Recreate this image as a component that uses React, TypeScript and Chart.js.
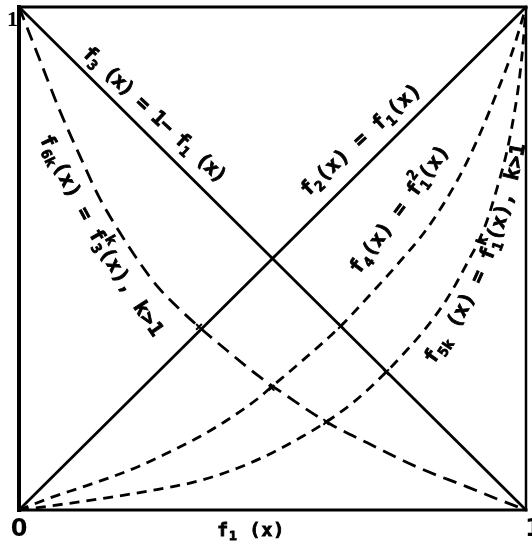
import React, { useEffect, useRef } from "react";
import { Chart, registerables } from "chart.js";

Chart.register(...registerables);

// ---- data ----
const diagX = [0, 1];
const f2Values = [0, 1];
const f3Values = [1, 0];

const f4X = [0, 0.061, 0.12, 0.178, 0.237, 0.296, 0.355, 0.414, 0.473, 0.496, 0.551, 0.635, 0.688, 0.747, 0.806, 0.865, 0.904, 0.943, 0.973, 1];
const f4Y = [0, 0.024, 0.044, 0.064, 0.087, 0.115, 0.145, 0.181, 0.223, 0.243, 0.29, 0.366, 0.423, 0.489, 0.561, 0.656, 0.736, 0.831, 0.911, 1];

const f5X = [0, 0.061, 0.159, 0.257, 0.355, 0.433, 0.498, 0.557, 0.606, 0.663, 0.724, 0.767, 0.806, 0.845, 0.884, 0.918, 0.943, 0.963, 0.978, 0.986, 0.994, 1];
const f5Y = [0, 0.008, 0.022, 0.038, 0.058, 0.084, 0.113, 0.145, 0.175, 0.217, 0.274, 0.32, 0.366, 0.421, 0.491, 0.561, 0.64, 0.716, 0.795, 0.849, 0.924, 1];

const f6X = [0, 0.041, 0.08, 0.12, 0.159, 0.198, 0.237, 0.276, 0.316, 0.355, 0.414, 0.473, 0.531, 0.61, 0.688, 0.786, 0.884, 0.943, 1];
const f6Y = [1, 0.895, 0.795, 0.704, 0.62, 0.553, 0.493, 0.441, 0.4, 0.364, 0.314, 0.266, 0.225, 0.173, 0.133, 0.085, 0.046, 0.022, 0];

const crossX = [0.5, 0.355, 0.498, 0.606, 0.635, 0.724];
const crossY = [0.5, 0.364, 0.243, 0.175, 0.366, 0.274];

const axisTicks = ["0", "1"];
const axisTitle = "f";
const axisTitleSub = "1";

type Seg = { t: string; sub?: string; sup?: string };
type Label = { segs: Seg[]; p0: [number, number]; mid: [number, number]; p2: [number, number] };

// label paths (start glyph centre, middle, end glyph centre) in data units
const curveLabels: Label[] = [
  { segs: [{ t: "f", sub: "3" }, { t: " (x) = 1\u2212 f", sub: "1" }, { t: " (x)" }], p0: [0.139, 0.905], mid: [0.267, 0.784], p2: [0.394, 0.664] },
  { segs: [{ t: "f", sub: "2" }, { t: "(x) = f", sub: "1" }, { t: "(x)" }], p0: [0.571, 0.638], mid: [0.675, 0.735], p2: [0.78, 0.831] },
  { segs: [{ t: "f", sub: "4" }, { t: "(x) = f", sub: "1", sup: "2" }, { t: "(x)" }], p0: [0.669, 0.483], mid: [0.752, 0.596], p2: [0.835, 0.71] },
  { segs: [{ t: "f", sub: "5k" }, { t: " (x) = f", sub: "1", sup: "k" }, { t: "(x), k>1" }], p0: [0.816, 0.304], mid: [0.92, 0.493], p2: [0.986, 0.716] },
  { segs: [{ t: "f", sub: "6k" }, { t: "(x) = f", sub: "3", sup: "k" }, { t: "(x), k>1" }], p0: [0.055, 0.732], mid: [0.155, 0.539], p2: [0.267, 0.358] },
];

const toPts = (xs: number[], ys: number[]) => xs.map((x, i) => ({ x, y: ys[i] }));

const FONT = '"DejaVu Sans Mono", monospace';

type G = { ch: string; font: string; dy: number; s: number };

function layoutGlyphs(ctx: CanvasRenderingContext2D, segs: Seg[], size: number) {
  const big = `bold ${size}px ${FONT}`;
  const sm = `bold ${Math.round(size * 0.72)}px ${FONT}`;
  const glyphs: G[] = [];
  let cur = 0;
  let lastMain = 0;
  for (const seg of segs) {
    ctx.font = big;
    for (const ch of seg.t) {
      const w = ctx.measureText(ch).width;
      glyphs.push({ ch, font: big, dy: 0, s: cur + w / 2 });
      lastMain = cur + w / 2;
      cur += w;
    }
    ctx.font = sm;
    let maxW = 0;
    const parts: [string | undefined, number][] = [
      [seg.sub, size * 0.34],
      [seg.sup, -size * 0.5],
    ];
    for (const [str, dy] of parts) {
      if (!str) continue;
      let c = cur;
      for (const ch of str) {
        const w = ctx.measureText(ch).width;
        glyphs.push({ ch, font: sm, dy, s: c + w / 2 });
        c += w;
      }
      maxW = Math.max(maxW, c - cur);
    }
    cur += maxW;
  }
  return { glyphs, first: glyphs[0].s, last: lastMain };
}

function drawOnPath(ctx: CanvasRenderingContext2D, segs: Seg[], p0: number[], m: number[], p2: number[], size: number) {
  const c = [2 * m[0] - (p0[0] + p2[0]) / 2, 2 * m[1] - (p0[1] + p2[1]) / 2];
  const N = 120;
  const pts: number[][] = [];
  for (let i = 0; i <= N; i++) {
    const t = i / N;
    const a = (1 - t) * (1 - t), b = 2 * t * (1 - t), d = t * t;
    pts.push([a * p0[0] + b * c[0] + d * p2[0], a * p0[1] + b * c[1] + d * p2[1]]);
  }
  const cum = [0];
  for (let i = 1; i <= N; i++) cum.push(cum[i - 1] + Math.hypot(pts[i][0] - pts[i - 1][0], pts[i][1] - pts[i - 1][1]));
  const L = cum[N];
  const at = (s: number) => {
    let i = 1;
    if (s <= 0) i = 1;
    else if (s >= L) i = N;
    else while (i < N && cum[i] < s) i++;
    const A = pts[i - 1], B = pts[i];
    const seg = cum[i] - cum[i - 1] || 1;
    const f = (s - cum[i - 1]) / seg;
    return { x: A[0] + (B[0] - A[0]) * f, y: A[1] + (B[1] - A[1]) * f, ang: Math.atan2(B[1] - A[1], B[0] - A[0]) };
  };
  const { glyphs, first, last } = layoutGlyphs(ctx, segs, size);
  let k = L / (last - first);
  k = Math.max(0.85, Math.min(1.25, k));
  const off = (L - (last - first) * k) / 2;
  ctx.save();
  ctx.fillStyle = "#000";
  ctx.strokeStyle = "#000";
  ctx.lineWidth = 0.9;
  ctx.textAlign = "center";
  ctx.textBaseline = "middle";
  for (const g of glyphs) {
    const p = at((g.s - first) * k + off);
    ctx.save();
    ctx.translate(p.x, p.y);
    ctx.rotate(p.ang);
    ctx.font = g.font;
    ctx.fillText(g.ch, 0, g.dy);
    ctx.strokeText(g.ch, 0, g.dy);
    ctx.restore();
  }
  ctx.restore();
}

const decorPlugin = {
  id: "decor",
  afterDatasetsDraw(chart: any) {
    const ctx: CanvasRenderingContext2D = chart.ctx;
    const { left, right, top, bottom } = chart.chartArea;
    const xs = chart.scales.x;
    const ys = chart.scales.y;
    ctx.save();
    ctx.strokeStyle = "#000";
    ctx.lineCap = "square";
    ctx.lineWidth = 4;
    ctx.beginPath();
    ctx.moveTo(left, bottom);
    ctx.lineTo(left, top);
    ctx.stroke();
    ctx.lineWidth = 3;
    ctx.beginPath();
    ctx.moveTo(left, top);
    ctx.lineTo(right, top);
    ctx.stroke();
    ctx.beginPath();
    ctx.moveTo(left, bottom);
    ctx.lineTo(right, bottom);
    ctx.stroke();
    ctx.lineWidth = 2.5;
    ctx.beginPath();
    ctx.moveTo(right, top);
    ctx.lineTo(right, bottom);
    ctx.stroke();

    // axis tick labels
    ctx.fillStyle = "#000";
    ctx.textBaseline = "middle";
    ctx.font = `bold 24px "DejaVu Sans", sans-serif`;
    ctx.textAlign = "center";
    ctx.fillText(axisTicks[0], xs.getPixelForValue(0), bottom + 20);
    ctx.textAlign = "left";
    ctx.fillText(axisTicks[1], xs.getPixelForValue(1) - 1, bottom + 20);
    ctx.font = `bold 22px "Liberation Serif", serif`;
    ctx.textAlign = "right";
    ctx.fillText(axisTicks[1], left - 1, ys.getPixelForValue(1) + 13);

    // axis title
    const tx = xs.getPixelForValue(0.457);
    drawOnPath(ctx, [{ t: axisTitle, sub: axisTitleSub }, { t: " (x)" }], [tx - 28, bottom + 21], [tx, bottom + 21], [tx + 28, bottom + 21], 18);

    const P = (p: [number, number]) => [xs.getPixelForValue(p[0]), ys.getPixelForValue(p[1])];
    curveLabels.forEach((l) => {
      drawOnPath(ctx, l.segs, P(l.p0), P(l.mid), P(l.p2), 20);
    });
    ctx.restore();
  },
};

export default function App() {
  const ref = useRef<HTMLCanvasElement | null>(null);
  useEffect(() => {
    if (!ref.current) return;
    const common = { pointRadius: 0, borderColor: "#000", borderWidth: 2.8, fill: false, clip: false as any };
    const chart = new Chart(ref.current, {
      type: "line",
      data: {
        datasets: [
          { ...common, label: "f2", data: toPts(diagX, f2Values) },
          { ...common, label: "f3", data: toPts(diagX, f3Values) },
          { ...common, label: "f4", data: toPts(f4X, f4Y), borderDash: [10, 7], cubicInterpolationMode: "monotone" },
          { ...common, label: "f5k", data: toPts(f5X, f5Y), borderDash: [10, 7], cubicInterpolationMode: "monotone" },
          { ...common, label: "f6k", data: toPts(f6X, f6Y), borderDash: [14, 8], cubicInterpolationMode: "monotone" },
          {
            label: "cross",
            data: toPts(crossX, crossY),
            showLine: false,
            pointStyle: "crossRot",
            pointRadius: 4,
            pointBorderWidth: 2,
            pointBorderColor: "#000",
            borderColor: "#000",
            clip: false as any,
          },
        ],
      },
      options: {
        animation: false,
        responsive: false,
        maintainAspectRatio: false,
        devicePixelRatio: 1,
        layout: { padding: { left: 19, top: 7, right: 3, bottom: 40 } },
        plugins: { legend: { display: false }, tooltip: { enabled: false } },
        scales: {
          x: { type: "linear", min: 0, max: 1, display: false },
          y: { type: "linear", min: 0, max: 1, display: false },
        },
      },
      plugins: [decorPlugin],
    } as any);
    return () => chart.destroy();
  }, []);
  return (
    <div style={{ position: "fixed", left: 0, top: 0, width: 532, height: 550, background: "#fff" }}>
      <canvas ref={ref} width={532} height={550} style={{ display: "block" }} />
    </div>
  );
}
